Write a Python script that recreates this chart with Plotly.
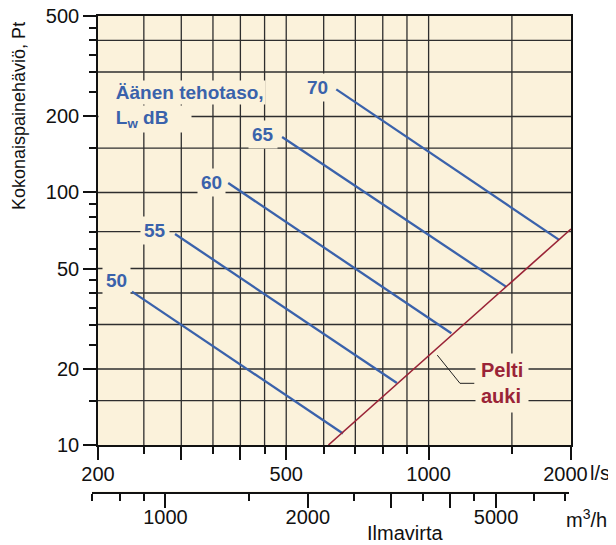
import math
import plotly.graph_objects as go

# ---------------- data ----------------
flow_range_ls = [200, 2000]          # l/s
pressure_range_pa = [10, 500]        # Pa
M3H_PER_LS = 3.6

sound_levels_db = [50, 55, 60, 65, 70]
sound_start_flow = [236, 291, 377, 490, 638]
sound_start_pa = [40.5, 68.5, 109, 166, 256]
sound_end_flow = [659, 857, 1117, 1460, 1888]
sound_end_pa = [11.1, 17.6, 27.7, 42.3, 64.9]
sound_label_flow = [219, 264, 348, 446, 583]
sound_label_pa = [45, 70.4, 110, 169, 261]

damper_open_flow = [614, 2000]
damper_open_pa = [10, 71.7]
leader_flow = [1043, 1165, 1249]
leader_pa = [22.7, 17.55, 17.55]

x_major = [200, 300, 400, 500, 1000, 2000]
x_major_text = ["200", "", "", "500", "1000", "2000&nbsp;&nbsp;"]
x_minor = [250, 350, 450, 600, 700, 800, 900, 1500]
x_grid = [250, 300, 350, 400, 450, 500, 600, 700, 800, 900, 1000, 1500]

y_major = [10, 20, 50, 100, 200, 500]
y_major_text = ["10", "20", "50", "100", "200", "500"]
y_minor = [15, 25, 30, 35, 40, 45, 60, 70, 80, 90, 150, 250, 300, 350, 400, 450]
y_grid = [15, 20, 30, 40, 50, 70, 100, 150, 200, 300, 400]

m3h_major = [1000, 2000, 3000, 4000, 5000]
m3h_major_text = ["1000", "2000", "", "", "5000"]
m3h_minor = [700, 800, 900, 1500, 2500, 3500, 4500, 6000, 7000]

# ---------------- layout geometry ----------------
BODY = 8                      # default page margin of the html body
PAGE_W, PAGE_H = 616, 545
PAGE_L, PAGE_T = 92, 16       # paper (plot area) top-left on the page
MR, MB = 45, 53
W, H = PAGE_W - BODY, PAGE_H - BODY
ML, MT = PAGE_L - BODY, PAGE_T - BODY
PW, PH = W - ML - MR, H - MT - MB
X_DOM0 = 6 / PW
Y_DOM0 = 47 / PH
X2_DOM1 = 476.6 / PW

def px_x(px):
    return (px - PAGE_L) / PW

def px_y(py):
    return (PAGE_T + PH - py) / PH

FONT = "Liberation Sans, Arial, Helvetica, sans-serif"
CREAM = "#FBF2DB"
BLUE = "#3A62AB"
RED = "#9A2437"
GRID = "#2E2E2E"
INK = "#111111"

lg = math.log10
EPS = 1e-7
x_rng = [lg(flow_range_ls[0]), lg(flow_range_ls[1])]
y_rng = [lg(pressure_range_pa[0]), lg(pressure_range_pa[1])]
ppd = (1 - X_DOM0) * PW / (x_rng[1] - x_rng[0])     # pixels per decade
x2_lo = x_rng[0] + lg(M3H_PER_LS) - X_DOM0 * PW / ppd
x2_hi = x2_lo + X2_DOM1 * PW / ppd

fig = go.Figure()

# grid lines
gx, gy = [], []
for v in x_grid:
    gx += [v, v, None]
    gy += [pressure_range_pa[0], pressure_range_pa[1], None]
for v in y_grid:
    gx += [flow_range_ls[0], flow_range_ls[1], None]
    gy += [v, v, None]
fig.add_trace(go.Scatter(x=gx, y=gy, mode="lines", line=dict(color=GRID, width=1.3),
                         hoverinfo="skip", connectgaps=False))

for lvl, xs, ys, xe, ye in zip(sound_levels_db, sound_start_flow, sound_start_pa,
                               sound_end_flow, sound_end_pa):
    fig.add_trace(go.Scatter(x=[xs, xe], y=[ys, ye], mode="lines",
                             line=dict(color=BLUE, width=2.3), name=f"{lvl} dB",
                             hoverinfo="skip"))

fig.add_trace(go.Scatter(x=damper_open_flow, y=damper_open_pa, mode="lines",
                         line=dict(color=RED, width=1.6), name="Pelti auki",
                         hoverinfo="skip"))
fig.add_trace(go.Scatter(x=leader_flow, y=leader_pa, mode="lines",
                         line=dict(color="#222222", width=1), hoverinfo="skip"))

# invisible trace so that the m3/h axis gets drawn
fig.add_trace(go.Scatter(x=[1000], y=[0], xaxis="x2", yaxis="y2",
                         mode="markers", marker=dict(opacity=0), hoverinfo="skip"))

ann = []
for lvl, fx, fy in zip(sound_levels_db, sound_label_flow, sound_label_pa):
    ann.append(dict(x=lg(fx), y=lg(fy), xref="x", yref="y", text=f"<b>{lvl}</b>",
                    showarrow=False, font=dict(family=FONT, size=19, color=BLUE),
                    bgcolor=CREAM, borderpad=3, xanchor="center", yanchor="middle"))

ann.append(dict(x=0, y=lg(250), xref="x domain", yref="y",
                text="<b>&nbsp;&nbsp;&nbsp;Äänen tehotaso,</b>", showarrow=False,
                font=dict(family=FONT, size=19, color=BLUE), bgcolor=CREAM, borderpad=1,
                xanchor="left", yanchor="middle", align="left"))
ann.append(dict(x=0, y=lg(196), xref="x domain", yref="y",
                text="<b>&nbsp;&nbsp;&nbsp;L<sub>w</sub> dB&nbsp;&nbsp;&nbsp;&nbsp;</b>",
                showarrow=False, font=dict(family=FONT, size=19, color=BLUE),
                bgcolor=CREAM, borderpad=1, xanchor="left", yanchor="middle", align="left"))

ann.append(dict(x=lg(1253), y=lg(17.6), xref="x", yref="y", text="<b>Pelti<br>auki</b>",
                showarrow=False, font=dict(family=FONT, size=20, color=RED),
                bgcolor=CREAM, borderpad=5, xanchor="left", yanchor="middle", align="left"))

ann.append(dict(x=px_x(19), y=px_y(116), xref="paper", yref="paper",
                text="Kokonaispainehäviö, Pt", textangle=-90, showarrow=False,
                font=dict(family=FONT, size=18, color=INK), xanchor="center", yanchor="middle"))
ann.append(dict(x=px_x(588), y=px_y(473), xref="paper", yref="paper",
                text="l/s", showarrow=False, font=dict(family=FONT, size=20, color=INK),
                xanchor="left", yanchor="middle"))
ann.append(dict(x=px_x(586), y=px_y(518), xref="paper", yref="paper",
                text="m<sup>3</sup>/h", showarrow=False, font=dict(family=FONT, size=20, color=INK),
                xanchor="center", yanchor="middle"))
ann.append(dict(x=px_x(405), y=px_y(533), xref="paper", yref="paper",
                text="Ilmavirta", showarrow=False, font=dict(family=FONT, size=20, color=INK),
                xanchor="center", yanchor="middle"))

tickfont = dict(family=FONT, size=20, color=INK)

fig.update_layout(
    width=W, height=H,
    margin=dict(l=ML, r=MR, t=MT, b=MB, pad=0, autoexpand=False),
    paper_bgcolor="white", plot_bgcolor=CREAM,
    showlegend=False, hovermode=False,
    annotations=ann,
    xaxis=dict(type="log", range=[x_rng[0] - EPS, x_rng[1] + EPS], domain=[X_DOM0, 1], anchor="y",
               tickmode="array", tickvals=x_major, ticktext=x_major_text,
               ticks="outside", ticklen=13, tickwidth=1.5, tickcolor=INK,
               tickfont=tickfont, showgrid=False, zeroline=False,
               showline=True, linecolor=INK, linewidth=1.6, mirror=True,
               ticklabelstandoff=-3, ticklabeloverflow="allow", automargin=False,
               minor=dict(tickvals=x_minor, ticks="outside", ticklen=7, tickwidth=1.5,
                          tickcolor=INK, showgrid=False)),
    yaxis=dict(type="log", range=[y_rng[0] - EPS, y_rng[1] + EPS], domain=[Y_DOM0, 1], anchor="x",
               tickmode="array", tickvals=y_major, ticktext=y_major_text,
               ticks="outside", ticklen=13, tickwidth=1.5, tickcolor=INK,
               tickfont=tickfont, showgrid=False, zeroline=False,
               showline=True, linecolor=INK, linewidth=1.6, mirror=True,
               ticklabelstandoff=0, ticklabeloverflow="allow", automargin=False,
               minor=dict(tickvals=y_minor, ticks="outside", ticklen=7, tickwidth=1.5,
                          tickcolor=INK, showgrid=False)),
    xaxis2=dict(type="log", range=[x2_lo, x2_hi], domain=[0, X2_DOM1], anchor="y2",
                side="bottom",
                tickmode="array", tickvals=m3h_major, ticktext=m3h_major_text,
                ticks="outside", ticklen=14, tickwidth=1.5, tickcolor=INK,
                tickfont=tickfont, showgrid=False, zeroline=False,
                showline=True, linecolor=INK, linewidth=1.6,
                ticklabelstandoff=-8, ticklabeloverflow="allow", automargin=False,
                minor=dict(tickvals=m3h_minor, ticks="outside", ticklen=7, tickwidth=1.5,
                           tickcolor=INK, showgrid=False)),
    yaxis2=dict(domain=[0, 0.001], anchor="x2", visible=False, range=[0, 1],
                fixedrange=True),
)

fig.write_html("out.html")
